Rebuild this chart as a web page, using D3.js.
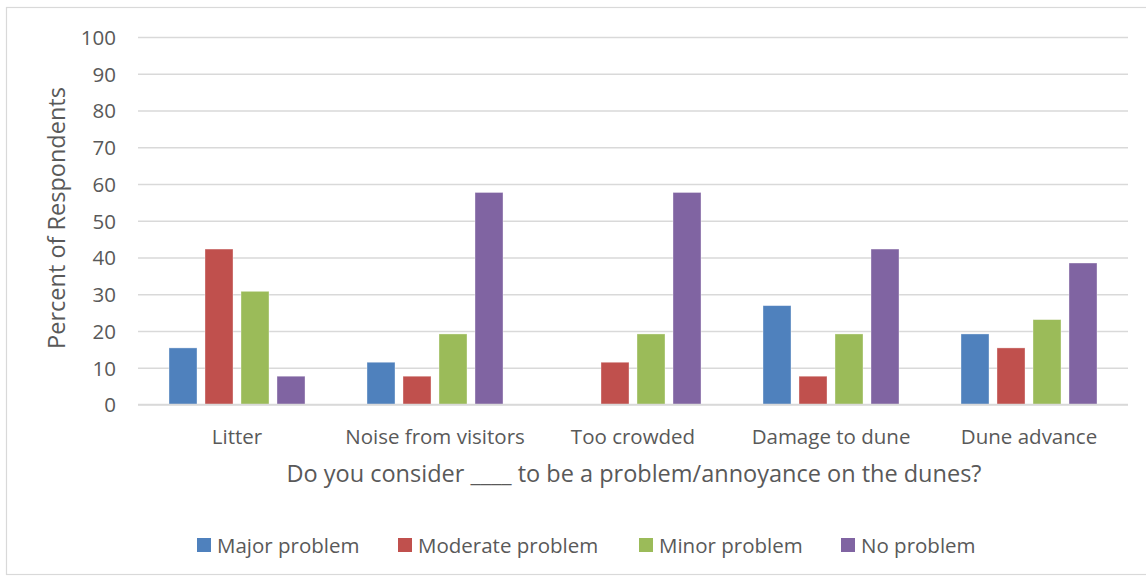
<!DOCTYPE html>
<html>
<head>
<meta charset="utf-8">
<script src="https://cdn.jsdelivr.net/npm/d3@7"></script>
<style>
  html, body { margin: 0; padding: 0; background: #fff; }
  svg { display: block; font-family: "Open Sans", "Noto Sans", "DejaVu Sans", sans-serif; }
</style>
</head>
<body>
<svg id="chart" width="1146" height="577"></svg>
<script>
// Survey responses: percent of respondents per issue and rating
const categories = ["Litter", "Noise from visitors", "Too crowded", "Damage to dune", "Dune advance"];
const seriesNames = ["Major problem", "Moderate problem", "Minor problem", "No problem"];
const majorProblem    = [15.4, 11.5, 0,    26.9, 19.2];
const moderateProblem = [42.3, 7.7,  11.5, 7.7,  15.4];
const minorProblem    = [30.8, 19.2, 19.2, 19.2, 23.1];
const noProblem       = [7.7,  57.7, 57.7, 42.3, 38.5];
const yTicks = [0, 10, 20, 30, 40, 50, 60, 70, 80, 90, 100];
const colors = ["#4F81BD", "#C0504D", "#9BBB59", "#8064A2"];

const seriesValues = [majorProblem, moderateProblem, minorProblem, noProblem];
const rows = categories.map((c, i) => ({
  category: c,
  values: seriesNames.map((s, j) => ({ series: s, value: seriesValues[j][i] }))
}));

const svg = d3.select("#chart");
const W = 1146, H = 577;
const plotLeft = 138, plotRight = 1128, plotTop = 37, plotBottom = 404.5;
const textColor = "#595959";

// chart frame (runs off the right edge)
svg.append("rect").attr("x", 6.5).attr("y", 7.5).attr("width", W + 20).attr("height", H - 10)
  .attr("fill", "#fff").attr("stroke", "#D9D9D9").attr("stroke-width", 1.2);

const x0 = d3.scaleBand().domain(categories).range([plotLeft, plotRight]).paddingInner(0).paddingOuter(0);
const x1 = d3.scaleBand().domain(seriesNames).range([0, x0.bandwidth()]).paddingInner(0.222).paddingOuter(0.861);
const y = d3.scaleLinear().domain([0, 100]).range([plotBottom, plotTop]);
const color = d3.scaleOrdinal().domain(seriesNames).range(colors);

// gridlines and y tick labels
const yAxis = d3.axisLeft(y).tickValues(yTicks).tickSize(-(plotRight - plotLeft)).tickPadding(22);
const gy = svg.append("g").attr("transform", `translate(${plotLeft},0)`).call(yAxis);
gy.select(".domain").remove();
gy.selectAll(".tick line").attr("stroke", "#D9D9D9").attr("stroke-width", 1.3);
gy.selectAll(".tick text").attr("fill", textColor).attr("dy", "0.36em")
  .style("font-size", "20.5px").style("font-family", "'Open Sans', sans-serif");

// bars
const groups = svg.append("g").selectAll("g").data(rows).join("g")
  .attr("transform", d => `translate(${x0(d.category)},0)`);
groups.selectAll("rect").data(d => d.values.filter(v => v.value > 0)).join("rect")
  .attr("x", d => x1(d.series))
  .attr("width", x1.bandwidth())
  .attr("y", d => y(d.value))
  .attr("height", d => y(0) - y(d.value))
  .attr("fill", d => color(d.series))
  .attr("stroke", "#fff").attr("stroke-opacity", 0.45).attr("stroke-width", 0.8);

// baseline
svg.append("line").attr("x1", plotLeft).attr("x2", plotRight).attr("y1", plotBottom).attr("y2", plotBottom)
  .attr("stroke", "#D9D9D9").attr("stroke-width", 1.3);

// category labels
const xAxis = d3.axisBottom(x0).tickSize(0).tickPadding(0);
const gx = svg.append("g").attr("transform", `translate(0,${plotBottom})`).call(xAxis);
gx.select(".domain").remove();
gx.selectAll(".tick text").attr("fill", textColor).attr("dy", 0).attr("y", 39)
  .style("font-size", "20.5px").style("font-family", "'Open Sans', sans-serif");

// axis titles
svg.append("text").attr("x", 634).attr("y", 482).attr("text-anchor", "middle")
  .attr("fill", textColor).style("font-size", "23.5px")
  .text("Do you consider ____ to be a problem/annoyance on the dunes?");
svg.append("text").attr("transform", `translate(65,218) rotate(-90)`)
  .attr("text-anchor", "middle").attr("fill", textColor).style("font-size", "23.5px")
  .text("Percent of Respondents");

// legend
const legendX = [197, 398, 639, 841];
const lg = svg.append("g").selectAll("g").data(seriesNames).join("g")
  .attr("transform", (d, i) => `translate(${legendX[i]},545)`);
lg.append("rect").attr("x", 0).attr("y", -7).attr("width", 14).attr("height", 14).attr("fill", d => color(d));
lg.append("text").attr("x", 20).attr("y", 7.5).attr("fill", textColor).style("font-size", "20.5px").text(d => d);
</script>
</body>
</html>
